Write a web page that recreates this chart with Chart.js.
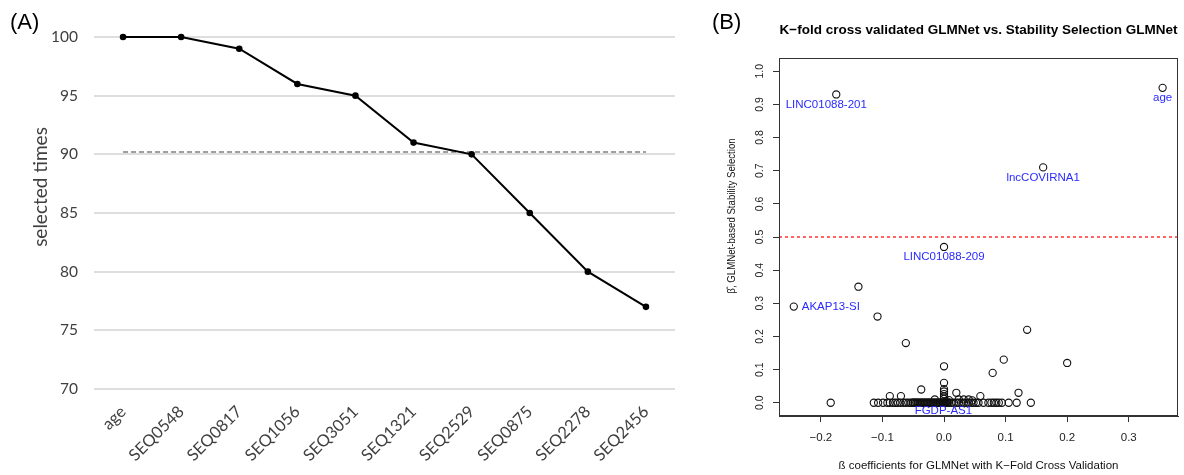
<!DOCTYPE html>
<html><head><meta charset="utf-8">
<script src="https://cdn.jsdelivr.net/npm/chart.js@4.4.0/dist/chart.umd.min.js"></script>
<style>
html,body{margin:0;padding:0;background:#fff;width:1184px;height:475px;overflow:hidden}
#ca{position:absolute;left:0;top:0}
#cb{position:absolute;left:690px;top:0}
</style></head><body>
<canvas id="ca" width="690" height="475"></canvas>
<canvas id="cb" width="494" height="475"></canvas>
<script>
// ---------- Panel A data ----------
const categories = ['age','SEQ0548','SEQ0817','SEQ1056','SEQ3051','SEQ1321','SEQ2529','SEQ0875','SEQ2278','SEQ2456'];
const selectedTimes = [100,100,99,96,95,91,90,85,80,77];
const cutoffTimes = 90.2;
const yMinA = 70, yMaxA = 100, yStepA = 5;

// ---------- Panel B data ----------
const labelNames = ['age','LINC01088-201','lncCOVIRNA1','LINC01088-209','AKAP13-SI','FGDP-AS1'];
const labelX     = [0.355, -0.175, 0.161, 0.000, -0.244, -0.001];
const labelY     = [0.95, 0.93, 0.71, 0.47, 0.29, 0.00];
const labelSide  = ['below','below','below','below','right','below'];

const otherX = [-0.139,-0.108,-0.062,0.135,0.200,0.097,0.079,0.000,0.000,0.000,0.000,0.000,0.000,0.000,
  -0.037,-0.088,-0.070,0.020,0.059,0.121,-0.015,0.024,0.032,0.040,0.046,0.004,0.008,
  -0.184,-0.114,-0.107,-0.099,-0.092,-0.088,-0.083,-0.079,-0.075,-0.071,-0.066,-0.062,-0.058,-0.054,
  -0.050,-0.047,-0.045,-0.042,-0.040,-0.037,-0.035,-0.032,-0.030,-0.027,-0.025,-0.022,-0.020,-0.017,
  -0.015,-0.012,-0.010,-0.007,-0.005,-0.002,0.000,0.002,0.005,0.008,0.012,0.016,0.020,0.024,0.028,
  0.032,0.036,0.040,0.044,0.048,0.052,0.056,0.064,0.072,0.077,0.081,0.085,0.089,0.094,0.105,0.118,0.141,
  -0.051,-0.048,-0.043,-0.038,-0.033,-0.028,-0.023,-0.018,-0.013,-0.008,-0.003,0.001,0.004,0.006];
const otherY = [0.35,0.26,0.18,0.22,0.12,0.13,0.09,0.11,0.06,0.041,0.034,0.026,0.019,0.012,
  0.04,0.02,0.02,0.03,0.02,0.03,0.01,0.01,0.01,0.01,0.007,0.005,0.008,
  0,0,0,0,0,0,0,0,0,0,0,0,0,0,
  0,0,0,0,0,0,0,0,0,0,0,0,0,0,
  0,0,0,0,0,0,0,0,0,0,0,0,0,0,0,
  0,0,0,0,0,0,0,0,0,0,0,0,0,0,0,0,0,
  0,0,0,0,0,0,0,0,0,0,0,0,0,0];
const stabilityCutoff = 0.5;
const xMinB = -0.268, xMaxB = 0.38, yMinB = -0.04, yMaxB = 1.04;

const titleB = 'K\u2212fold cross validated GLMNet vs. Stability Selection GLMNet';
const xTitleB = '\u00df coefficients for GLMNet with K\u2212Fold Cross Validation';
const yTitleB = '\u03b2\u0302, GLMNet-based Stability Selection';
const yTitleA = 'selected times';

Chart.defaults.animation = false;
Chart.defaults.devicePixelRatio = 1;

// ---------- Panel A ----------
const textA = {
  id: 'textA',
  afterDraw(chart) {
    const c = chart.ctx;
    c.save();
    c.fillStyle = '#000';
    c.font = '22px "Liberation Sans"';
    c.textAlign = 'left'; c.textBaseline = 'middle';
    c.fillText('(A)', 10, 23);
    c.fillStyle = '#404040';
    c.font = '19px Lato';
    c.translate(41, 187);
    c.rotate(-Math.PI / 2);
    c.textAlign = 'center';
    c.fillText(yTitleA, 0, 0);
    c.restore();
  }
};

new Chart(document.getElementById('ca'), {
  type: 'line',
  data: {
    labels: categories,
    datasets: [
      { data: selectedTimes, borderColor: '#000', borderWidth: 2, pointRadius: 2.3, clip: false,
        pointBackgroundColor: '#000', pointBorderColor: '#000', tension: 0, order: 1 },
      { data: [{ x: categories[0], y: cutoffTimes }, { x: categories[categories.length - 1], y: cutoffTimes }],
        borderColor: '#7f7f7f', borderDash: [5, 3], borderWidth: 1.5, pointRadius: 0, order: 2 }
    ]
  },
  options: {
    responsive: false,
    layout: { padding: { left: 0, right: 15, top: 37, bottom: 0 } },
    plugins: { legend: { display: false }, tooltip: { enabled: false } },
    scales: {
      x: {
        offset: true,
        grid: { display: false },
        border: { display: false },
        ticks: { minRotation: 45, maxRotation: 45, autoSkip: false, padding: 5,
                 font: { family: 'Lato', size: 16.5 }, color: '#404040' },
        afterFit: s => { s.height = 86; }
      },
      y: {
        min: yMinA, max: yMaxA,
        ticks: { stepSize: yStepA, padding: 16, font: { family: 'Lato', size: 15.5 }, color: '#404040' },
        grid: { color: '#dedede', lineWidth: 2, drawTicks: false },
        border: { display: false },
        afterFit: s => { s.width = 94; }
      }
    }
  },
  plugins: [textA]
});

// ---------- Panel B ----------
const fmtB = v => (v < -1e-9 ? '\u2212' : '') + Math.abs(v).toFixed(1);

const textB = {
  id: 'textB',
  afterDraw(chart) {
    const c = chart.ctx, a = chart.chartArea;
    const xs = chart.scales.x, ys = chart.scales.y;
    c.save();
    // box
    c.strokeStyle = '#333'; c.lineWidth = 1;
    c.strokeRect(Math.round(a.left) + 0.5, Math.round(a.top) + 0.5,
                 Math.round(a.right - a.left) - 1, Math.round(a.bottom - a.top) - 1);
    // point labels
    c.fillStyle = '#2a2aff';
    c.font = '11.5px "Liberation Sans"';
    c.textBaseline = 'middle';
    labelNames.forEach((n, i) => {
      const px = xs.getPixelForValue(labelX[i]), py = ys.getPixelForValue(labelY[i]);
      if (labelSide[i] === 'right') { c.textAlign = 'left'; c.fillText(n, px + 8, py); }
      else { c.textAlign = 'center'; c.fillText(n, px + (i === 1 ? -10 : 0), py + (i === 5 ? 8 : 10)); }
    });
    // panel tag
    c.fillStyle = '#000';
    c.font = '22px "Liberation Sans"';
    c.textAlign = 'left';
    c.fillText('(B)', 22, 23);
    // y title (slightly condensed along its length, as in the reference)
    c.font = '11.5px "Liberation Sans"';
    c.fillStyle = '#111';
    c.translate(42, 216);
    c.rotate(-Math.PI / 2);
    c.scale(0.84, 1);
    c.textAlign = 'center';
    c.fillText(yTitleB, 0, 0);
    c.restore();
  }
};

const ptsMain = otherX.map((x, i) => ({ x, y: otherY[i] }));
const ptsLab = labelX.map((x, i) => ({ x, y: labelY[i] }));

new Chart(document.getElementById('cb'), {
  type: 'scatter',
  data: {
    datasets: [
      { data: ptsLab, pointRadius: 3.6, borderColor: '#111', backgroundColor: 'rgba(0,0,0,0)', borderWidth: 1.1 },
      { data: ptsMain, pointRadius: 3.6, borderColor: '#111', backgroundColor: 'rgba(0,0,0,0)', borderWidth: 1.1 },
      { type: 'line', data: [{ x: xMinB, y: stabilityCutoff }, { x: xMaxB, y: stabilityCutoff }],
        borderColor: '#ff3030', borderDash: [3, 3], borderWidth: 1.5, pointRadius: 0 }
    ]
  },
  options: {
    responsive: false,
    layout: { padding: { left: 0, right: 6, top: 0, bottom: 0 } },
    plugins: {
      legend: { display: false }, tooltip: { enabled: false },
      title: { display: true, text: titleB, fullSize: false, color: '#000',
               font: { family: 'Liberation Sans', size: 13.5, weight: 'bold' },
               padding: { top: 22, bottom: 19.8 } }
    },
    scales: {
      x: {
        type: 'linear', min: xMinB, max: xMaxB,
        ticks: { stepSize: 0.1, includeBounds: false, callback: fmtB, maxRotation: 0, padding: 9,
                 font: { family: 'Liberation Sans', size: 11.5 }, color: '#222' },
        grid: { drawOnChartArea: false, tickLength: 6, tickColor: '#333' },
        border: { display: true, color: '#333' },
        title: { display: true, text: xTitleB, color: '#111',
                 font: { family: 'Liberation Sans', size: 11.5 }, padding: { top: 0, bottom: 2 } },
        afterFit: s => { s.height = 59; }
      },
      y: {
        type: 'linear', min: yMinB, max: yMaxB,
        ticks: { stepSize: 0.1, includeBounds: false, callback: fmtB, minRotation: 90, maxRotation: 90,
                 crossAlign: 'center', padding: 6,
                 font: { family: 'Liberation Sans', size: 10.5 }, color: '#222' },
        grid: { drawOnChartArea: false, tickLength: 6, tickColor: '#333' },
        border: { display: true, color: '#333' },
        afterFit: s => { s.width = 89; }
      }
    }
  },
  plugins: [textB]
});
</script>
</body></html>
